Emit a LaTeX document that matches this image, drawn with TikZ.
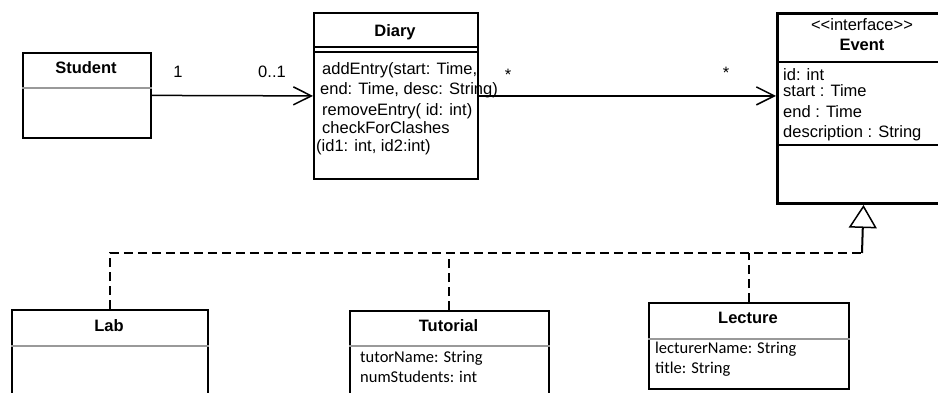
\documentclass[tikz,border=0pt]{standalone}
\usepackage{fontspec}
\setmainfont{Liberation Sans}
\newfontfamily\calfont{Carlito}
\usetikzlibrary{arrows.meta}

\begin{document}
\begin{tikzpicture}[x=1pt,y=-1pt,
  every node/.style={font=\fontsize{16.5}{20}\selectfont, inner sep=0pt},
  umlbox/.style={draw, line width=1.8pt, anchor=north west, inner sep=0pt},
  classname/.style={font=\fontsize{16.5}{20}\selectfont\bfseries, anchor=base},
  member/.style={anchor=base west},
  cmember/.style={anchor=base west, font=\fontsize{16.5}{20}\selectfont\calfont},
  mult/.style={anchor=base},
  graysep/.style={line width=1.3pt, draw=black!40},
  blacksep/.style={line width=1.5pt, draw=black},
  assoc/.style={line width=1.5pt, -{Straight Barb[length=18pt,width=18pt,line width=1.5pt]}},
  realize/.style={line width=2pt, dash pattern=on 9pt off 5pt},
]
\useasboundingbox (0,0) rectangle (938,392);
\clip (0,0) rectangle (938,392);

% class boxes
\node[umlbox, minimum width=128pt, minimum height=85pt] (student) at (22,52) {};
\node[umlbox, minimum width=164pt, minimum height=166pt] (diary) at (313,12) {};
\node[umlbox, line width=3pt, minimum width=172pt, minimum height=190pt] (event) at (776,12) {};
\node[umlbox, minimum width=196pt, minimum height=100pt] (lab) at (11,309) {};
\node[umlbox, minimum width=199pt, minimum height=100pt] (tutorial) at (349,310) {};
\node[umlbox, minimum width=200pt, minimum height=86pt] (lecture) at (648,302) {};

% compartments
\draw[graysep] (student.west |- 0,88) -- (student.east |- 0,88);
\draw[blacksep] (diary.west |- 0,47) -- (diary.east |- 0,47);
\draw[blacksep] (diary.west |- 0,52) -- (diary.east |- 0,52);
\draw[blacksep] (event.west |- 0,62) -- (event.east |- 0,62);
\draw[blacksep] (event.west |- 0,145) -- (event.east |- 0,145);
\draw[graysep] (lab.west |- 0,346) -- (lab.east |- 0,346);
\draw[graysep] (tutorial.west |- 0,346) -- (tutorial.east |- 0,346);
\draw[graysep] (lecture.west |- 0,339) -- (lecture.east |- 0,339);

% class names
\node[classname] (studentName) at (86,73) {Student};
\node[classname] (diaryName) at (395,36) {Diary};
\node[anchor=base] (eventStereo) at (862,30) {<\kern0pt<interface>\kern0pt>};
\node[classname] (eventName) at (862,50) {Event};
\node[classname] (labName) at (109,331) {Lab};
\node[classname] (tutorialName) at (448.5,331) {Tutorial};
\node[classname] (lectureName) at (748,323) {Lecture};

% Diary operations
\node[member] (d1) at (322,74) {addEntry(start: Time,};
\node[member] (d2) at (320,94) {end: Time, desc: String)};
\node[member] (d3) at (322,115) {removeEntry( id: int)};
\node[member] (d4) at (322,133) {checkForClashes};
\node[member] (d5) at (316,151) {(id1: int, id2:int)};

% Event attributes
\node[member] (e1) at (783,80) {id: int};
\node[member] (e2) at (783,96) {start : Time};
\node[member] (e3) at (783,117) {end : Time};
\node[member] (e4) at (783,137) {description : String};

% Tutorial and Lecture attributes
\node[cmember] (t1) at (360,362) {tutorName: String};
\node[cmember] (t2) at (360,382) {numStudents: int};
\node[cmember] (l1) at (655,353) {lecturerName: String};
\node[cmember] (l2) at (655,373) {title: String};

% associations
\draw[assoc] (student.east) -- (diary.west);
\draw[assoc] (diary.east) -- (event.west |- diary.east);
\node[mult] (m1) at (178,77) {1};
\node[mult] (m2) at (272,77) {0..1};
\node[mult] (m3) at (508,80) {*};
\node[mult] (m4) at (726,78) {*};

% realizations of Event
\coordinate (gen) at (862,253);
\draw[realize] (lab.north) |- (gen);
\draw[realize] (tutorial.north) -- (tutorial.north |- gen);
\draw[realize] (lecture.north) -- (lecture.north |- gen);
\draw[line width=2pt, -{Triangle[open, length=23pt, width=28pt, line width=1.5pt]}] (gen) -- (event.south);
\end{tikzpicture}
\end{document}
